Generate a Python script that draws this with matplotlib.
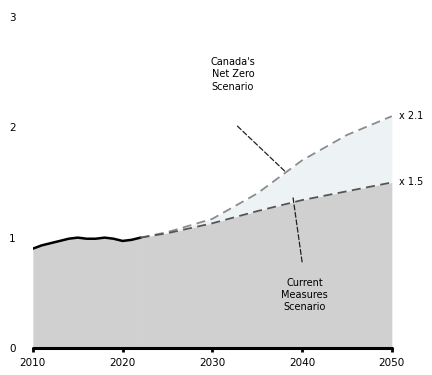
import matplotlib.pyplot as plt

hist_years = [2010, 2011, 2012, 2013, 2014, 2015, 2016, 2017, 2018, 2019, 2020, 2021, 2022]
hist_vals = [0.90, 0.93, 0.95, 0.97, 0.99, 1.00, 0.99, 0.99, 1.00, 0.99, 0.97, 0.98, 1.00]

proj_years = [2022, 2025, 2030, 2035, 2040, 2045, 2050]
cms_vals = [1.00, 1.04, 1.13, 1.24, 1.34, 1.42, 1.50]
nz_vals = [1.00, 1.05, 1.17, 1.40, 1.70, 1.93, 2.10]

end_labels = ['x 2.1', 'x 1.5']


def growthChart():
    """ Area chart of historical and projected growth under both scenarios """
    fig = plt.figure(figsize=(4.32, 3.75), dpi=100)
    ax = fig.add_axes([0.076, 0.072, 0.831, 0.883])

    # light band between current measures and net zero
    ax.fill_between(proj_years, cms_vals, nz_vals, color='#edf3f5', lw=0)
    ax.fill_between(hist_years, 0, hist_vals, color='#d0d0d0', lw=0)
    ax.fill_between(proj_years, 0, cms_vals, color='#d0d0d0', lw=0)

    ax.plot(hist_years, hist_vals, color='black', lw=1.8)
    ax.plot(proj_years, nz_vals, color='#8c8c8c', lw=1.3, ls=(0, (5, 3)))
    ax.plot(proj_years, cms_vals, color='#555555', lw=1.3, ls=(0, (5, 3)))

    ax.text(2050.8, nz_vals[-1], end_labels[0], fontsize=7, va='center', ha='left')
    ax.text(2050.8, cms_vals[-1], end_labels[1], fontsize=7, va='center', ha='left')

    # scenario labels with leader lines
    ax.text(2032.3, 2.48, "Canada's\nNet Zero\nScenario", ha='center', va='center',
            fontsize=7, linespacing=1.3)
    ax.annotate('', xy=(2038.1, 1.60), xytext=(2032.8, 2.01),
                arrowprops=dict(arrowstyle='-', color='#222222', lw=0.9, ls=(0, (4, 2)),
                                shrinkA=0, shrinkB=0))
    ax.text(2040.3, 0.48, "Current\nMeasures\nScenario", ha='center', va='center',
            fontsize=7, linespacing=1.3)
    ax.annotate('', xy=(2039.0, 1.36), xytext=(2040.0, 0.78),
                arrowprops=dict(arrowstyle='-', color='#222222', lw=0.9, ls=(0, (4, 2)),
                                shrinkA=0, shrinkB=0))

    ax.set_xlim(2010, 2050)
    ax.set_ylim(0, 3)
    ax.set_xticks([2010, 2020, 2030, 2040, 2050])
    ax.set_yticks([0, 1, 2, 3])
    for side in ['top', 'right', 'left']:
        ax.spines[side].set_visible(False)
    ax.spines['bottom'].set_linewidth(2.2)
    ax.spines['bottom'].set_capstyle('round')
    ax.tick_params(axis='x', length=3, width=2, labelsize=7.5, pad=4)
    ax.tick_params(axis='y', length=0, labelsize=7.5, pad=17)
    for lbl in ax.get_yticklabels():
        lbl.set_horizontalalignment('left')

    plt.savefig('out.png', dpi=100)


if __name__ == '__main__':
    growthChart()
